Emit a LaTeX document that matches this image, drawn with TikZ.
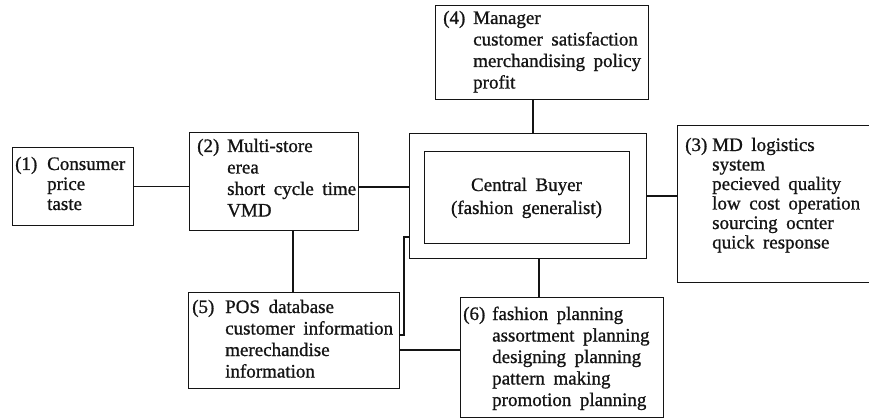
\documentclass[tikz,border=0pt]{standalone}
\usepackage{fontspec}
\setmainfont{Liberation Serif}[WordSpace=1.8, FakeBold=0.9]
\definecolor{ink}{RGB}{20,20,20}
% leading label such as "(1)" followed by the first entry
\newcommand\lead[2]{\makebox[#1][l]{#2}}
\begin{document}
\begin{tikzpicture}[x=1pt,y=-1pt,
  frame/.style={draw=ink, line width=1.3pt, inner sep=0pt, anchor=north west},
  entry/.style={anchor=base west, inner sep=0pt, text=ink,
    font=\fontsize{19}{#1}\selectfont},
  entry/.default=21.5,
  wire/.style={draw=ink, line width=1.3pt}]
\useasboundingbox[fill=white] (0,0) rectangle (869,419);

% boxes
\node[frame, minimum width=121pt, minimum height=78pt]  (b1)  at (12,147) {};
\node[frame, minimum width=169pt, minimum height=98pt]  (b2)  at (189,132) {};
\node[frame, minimum width=213pt, minimum height=94pt]  (b4)  at (435,5) {};
\node[frame, minimum width=237pt, minimum height=125pt] (cbo) at (409,133) {};
\node[frame, minimum width=205pt, minimum height=92pt]  (cbi) at (424,151) {};
\node[frame, minimum width=210pt, minimum height=157pt] (b3)  at (677,125) {};
\node[frame, minimum width=211pt, minimum height=96pt]  (b5)  at (188,292) {};
\node[frame, minimum width=203pt, minimum height=120pt] (b6)  at (460,297) {};

% texts
\node[entry=20] (t1) at (15,170) {\begin{tabular}[t]{@{}l@{}l@{}}
  \lead{32pt}{(1)} & Consumer\\ & price\\ & taste\end{tabular}};
\node[entry] (t2) at (197,152) {\begin{tabular}[t]{@{}l@{}l@{}}
  \lead{30pt}{(2)} & Multi-store\\ & erea\\ & short cycle time\\ & VMD\end{tabular}};
\node[entry] (t4) at (443,24) {\begin{tabular}[t]{@{}l@{}l@{}}
  \lead{30pt}{(4)} & Manager\\ & customer satisfaction\\ & merchandising policy\\ & profit\end{tabular}};
\node[entry=19.5] (t3) at (685,151) {\begin{tabular}[t]{@{}l@{}l@{}}
  \lead{27pt}{(3)} & MD logistics\\ & system\\ & pecieved quality\\ & low cost operation\\ & sourcing ocnter\\ & quick response\end{tabular}};
\node[entry] (t5) at (192,313) {\begin{tabular}[t]{@{}l@{}l@{}}
  \lead{33pt}{(5)} & POS database\\ & customer information\\ & merechandise\\ & information\end{tabular}};
\node[entry] (t6) at (463,320) {\begin{tabular}[t]{@{}l@{}l@{}}
  \lead{29pt}{(6)} & fashion planning\\ & assortment planning\\ & designing planning\\ & pattern making\\ & promotion planning\end{tabular}};
\node[entry=23, anchor=base] (tc) at (526.5,191) {\begin{tabular}[t]{@{}c@{}}
  Central Buyer\\ (fashion generalist)\end{tabular}};

% connector routing points
\coordinate (r1) at (0,187);
\coordinate (k1) at (293,0);
\coordinate (k2) at (533,0);
\coordinate (k3) at (539,0);
\coordinate (jt) at (404,237);
\coordinate (jb) at (404,335);
\coordinate (r5) at (0,350);

% connectors
\draw[wire] (b1.east) -- (b1.east -| b2.west);
\draw[wire] (b2.east |- r1) -- (cbo.west |- r1);
\draw[wire] (b2.south -| k1) -- (b5.north -| k1);
\draw[wire] (b4.south -| k2) -- (cbo.north -| k2);
\draw[wire] (cbo.east) -- (cbo.east -| b3.west);
\draw[wire] (cbo.south -| k3) -- (b6.north -| k3);
\draw[wire] (cbo.west |- jt) -- (jt) -- (jb) -- (b5.east |- jb);
\draw[wire] (b5.east |- r5) -- (b6.west |- r5);
\end{tikzpicture}
\end{document}
